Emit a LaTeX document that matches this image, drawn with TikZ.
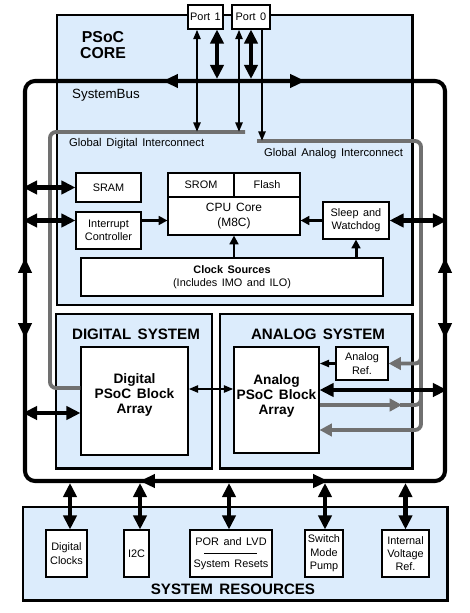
\documentclass[tikz,border=0pt]{standalone}
\usepackage{fontspec}
\setmainfont{Liberation Sans}[WordSpace=1.5]
\usetikzlibrary{arrows.meta,positioning,calc}
\definecolor{psocblue}{RGB}{220,236,252}
\definecolor{linkgray}{RGB}{112,112,112}

\begin{document}
\begin{tikzpicture}[x=0.2mm, y=-0.2mm,
    frame/.style={rectangle, draw, line width=1.7pt, fill=psocblue, inner sep=0pt},
    blk/.style={rectangle, draw, line width=0.6pt, fill=white, inner sep=0pt, align=center, font=\fontsize{6.2}{7.6}\selectfont},
    busloop/.style={rectangle, draw, line width=2.3pt, rounded corners=2mm, inner sep=0pt},
    title/.style={font=\fontsize{8.6}{9.8}\selectfont\bfseries, align=center},
    arraytext/.style={font=\fontsize{7.8}{8.3}\selectfont\bfseries, align=center},
    lbl/.style={font=\fontsize{6.4}{8}\selectfont, anchor=west},
    bigboth/.style={{Triangle[length=8pt,width=7.5pt]}-{Triangle[length=8pt,width=7.5pt]}, line width=2.3pt},
    thinboth/.style={{Triangle[length=5.5pt,width=4pt]}-{Triangle[length=5.5pt,width=4pt]}, line width=1.4pt},
    thinarrow/.style={-{Triangle[length=5.5pt,width=4pt]}, line width=1.4pt},
    midarrow/.style={-{Triangle[length=5pt,width=5pt]}, line width=1.7pt},
    bustip/.style={-{Triangle[length=8.5pt,width=7.5pt]}, line width=2.3pt},
    grayline/.style={draw=linkgray, line width=2.2pt, rounded corners=1.2mm},
    graytip/.style={-{Triangle[length=7pt,width=7pt]}}
]
    \useasboundingbox (0,0) rectangle (469,613);

    % PSoC core
    \node[frame, minimum width=71mm, minimum height=58mm] (core) at (234.5,160) {};
    \node[title, font=\fontsize{9}{9.6}\selectfont\bfseries] (coretitle) at (103,45) {PSoC\\CORE};
    \node[lbl, font=\fontsize{7.6}{9}\selectfont] (buslbl) at (66,95) {SystemBus};
    \node[lbl] (gdilbl) at (63,144) {Global Digital Interconnect};
    \node[lbl] (gailbl) at (258,154) {Global Analog Interconnect};

    % digital and analog systems
    \node[frame, minimum width=31.2mm, minimum height=30.8mm] (digsys) at (134,391) {};
    \node[frame, minimum width=38.4mm, minimum height=30.8mm] (anasys) at (316,391) {};
    \node[title] (digtitle) at (136,334) {DIGITAL SYSTEM};
    \node[title] (anatitle) at (318,334) {ANALOG SYSTEM};

    % system bus loop
    \node[busloop, minimum width=84mm, minimum height=80mm] (sysbus) at (235,281) {};
    \draw[bustip] (185,81) -- (163,81);
    \draw[bustip] (285,81) -- (305,81);
    \draw[bustip] (25,276) -- (25,258);
    \draw[bustip] (25,320) -- (25,338);
    \draw[bustip] (445,276) -- (445,258);
    \draw[bustip] (445,320) -- (445,338);
    \draw[bustip] (160,481) -- (140,481);
    \draw[bustip] (308,481) -- (328,481);

    % ports
    \node[blk, minimum width=7mm, minimum height=4.8mm] (port1) at (205.5,17) {Port 1};
    \node[blk, minimum width=7.6mm, minimum height=4.8mm] (port0) at (251,17) {Port 0};

    % core blocks
    \node[blk, minimum width=13mm, minimum height=5.8mm] (sram) at (108.5,187.5) {SRAM};
    \node[blk, minimum width=13mm, minimum height=7.4mm] (intc) at (108.5,230.5) {Interrupt\\Controller};
    \node[blk, minimum width=13.2mm, minimum height=4.8mm] (srom) at (201,185) {SROM};
    \node[blk, minimum width=13.2mm, minimum height=4.8mm] (flash) at (267,185) {Flash};
    \node[blk, minimum width=26.4mm, minimum height=7.6mm, font=\fontsize{6.8}{8.4}\selectfont] (cpu) at (234,216) {CPU Core\\(M8C)};
    \node[blk, minimum width=13.2mm, minimum height=7.4mm] (sleep) at (356,220.5) {Sleep and\\Watchdog};
    \node[blk, minimum width=60.4mm, minimum height=7.6mm] (clk) at (232,277) {\textbf{Clock Sources}\\(Includes IMO and ILO)};

    % system blocks
    \node[blk, minimum width=21.4mm, minimum height=21.6mm] (digarray) at (134.5,401) {};
    \node[arraytext] (digtext) at (134.5,395) {Digital\\PSoC Block\\Array};
    \node[blk, minimum width=17mm, minimum height=21.2mm] (anarray) at (276.5,400) {};
    \node[arraytext] (anatext) at (276.5,396) {Analog\\PSoC Block\\Array};
    \node[blk, minimum width=10.4mm, minimum height=6.6mm] (anaref) at (362,363.5) {Analog\\Ref.};

    % system resources
    \node[frame, minimum width=84.8mm, minimum height=18.6mm] (sysres) at (235,553.5) {};
    \node[title] (restitle) at (233,589) {SYSTEM RESOURCES};
    \node[blk, minimum width=8.2mm, minimum height=9.4mm] (dclk) at (66.5,553.5) {Digital\\Clocks};
    \node[blk, minimum width=5mm, minimum height=9.4mm] (i2c) at (136.5,553.5) {I2C};
    \node[blk, minimum width=16.4mm, minimum height=9.4mm] (por) at (231,553.5) {};
    \node[blk, draw=none, fill=none] (portop) at ($(por.center)+(0,-11.5)$) {POR and LVD};
    \node[blk, draw=none, fill=none] (porbot) at ($(por.center)+(0,11.5)$) {System Resets};
    \draw[line width=0.6pt] ($(por.center)+(-27,0)$) -- ($(por.center)+(26,0)$);
    \node[blk, minimum width=7.6mm, minimum height=9.4mm] (smp) at (324,553.5) {Switch\\Mode\\Pump};
    \node[blk, minimum width=9.4mm, minimum height=9.4mm] (ivr) at (405.5,553.5) {Internal\\Voltage\\Ref.};

    % global interconnects
    \coordinate (gdiR) at (245,132);
    \coordinate (gaiL) at (257,141);
    \draw[grayline] (gdiR) -| (50,388) -- (digarray.west |- 0,388);
    \draw[grayline, graytip] (gaiL) -| (421,430) -- (anarray.east |- 0,430);
    \draw[grayline, graytip] (421,348) |- (anaref.east);
    \draw[grayline, graytip] (anarray.east |- 0,405) -- (402,405);
    \draw[grayline] (400,405) -| (421,396);

    % port links
    \draw[thinboth] (port1.south -| 197,0) -- (gdiR -| 197,0);
    \draw[bigboth] (port1.south -| 217,0) -- (sysbus.north -| 217,0);
    \draw[thinboth] (port0.south -| 239,0) -- (gdiR -| 239,0);
    \draw[bigboth] (port0.south -| 251,0) -- (sysbus.north -| 251,0);
    \draw[thinarrow] (port0.south -| 262,0) -- (gaiL -| 262,0);

    % core links
    \draw[bigboth] (sram.west) -- (sram.west -| sysbus.west);
    \draw[bigboth] (intc.west |- sleep.west) -- (sysbus.west |- sleep.west);
    \draw[bigboth] (sleep.east) -- (sleep.east -| sysbus.east);
    \draw[midarrow] (intc.east |- sleep.west) -- (cpu.west |- sleep.west);
    \draw[midarrow] (sleep.west) -- (sleep.west -| cpu.east);
    \draw[midarrow] (clk.north -| cpu.south) -- (cpu.south);
    \draw[midarrow] (clk.north -| sleep.south) -- (sleep.south);

    % system links
    \draw[thinboth] (digarray.east |- 0,389) -- (anarray.west |- 0,389);
    \draw[thinarrow] (anaref.west) -- (anaref.west -| anarray.east);
    \draw[bigboth] (anarray.east |- 0,390) -- (sysbus.east |- 0,390);
    \draw[bigboth] (digarray.west |- 0,413) -- (sysbus.west |- 0,413);

    % resource links
    \draw[bigboth] (dclk.north -| 70,0) -- (sysbus.south -| 70,0);
    \draw[bigboth] (i2c.north -| 140,0) -- (sysbus.south -| 140,0);
    \draw[bigboth] (por.north -| 229,0) -- (sysbus.south -| 229,0);
    \draw[bigboth] (smp.north -| 325,0) -- (sysbus.south -| 325,0);
    \draw[bigboth] (ivr.north) -- (ivr.north |- sysbus.south);
\end{tikzpicture}
\end{document}
